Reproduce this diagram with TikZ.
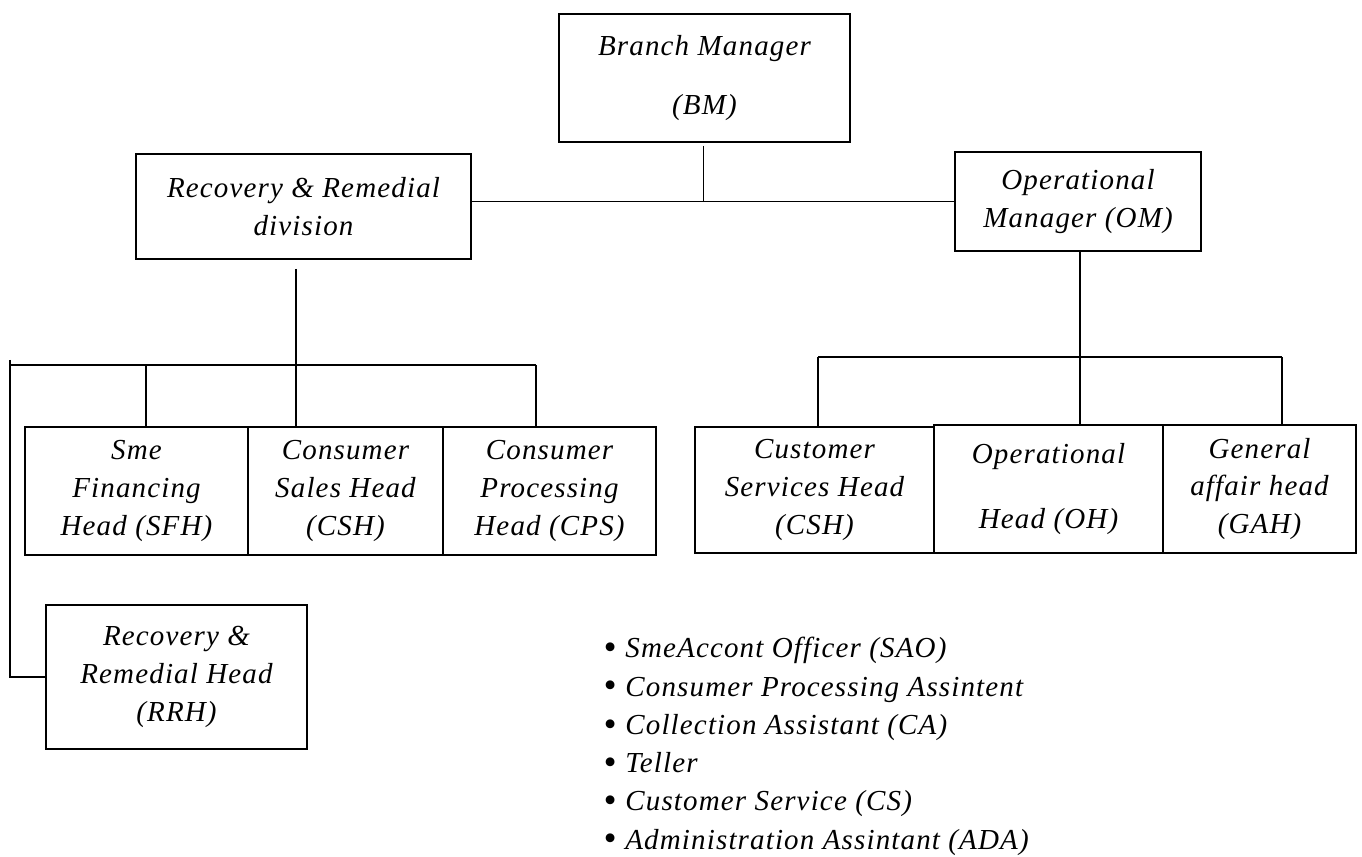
\documentclass[tikz,border=0pt]{standalone}
\usepackage{fontspec}
\setmainfont{Liberation Serif}
\newfontfamily\orgfont[LetterSpace=4]{Liberation Serif}
\usetikzlibrary{positioning}

\tikzset{
  orgbox/.style={draw, line width=1.1pt, inner sep=0pt, align=center,
    font=\fontsize{16.5}{21.5}\selectfont\orgfont\itshape},
  link/.style={line width=0.75pt},
  listitem/.style={anchor=base west, inner sep=0pt,
    font=\fontsize{16.5}{20}\selectfont\orgfont\itshape}
}

\begin{document}
\begin{tikzpicture}[x=0.02cm, y=-0.02cm]
  \useasboundingbox (0,0) rectangle (1362,857);

  % top level
  \node[orgbox, minimum width=5.82cm, minimum height=2.56cm] (bm) at (704.5,78)
    {Branch Manager\\[12.5pt](BM)};
  \node[orgbox, minimum width=6.7cm, minimum height=2.1cm] (rrd) at (303.5,206.5)
    {Recovery \& Remedial\\division};
  \node[orgbox, minimum width=4.92cm, minimum height=1.98cm] (om) at (1078,201.5)
    {Operational\\Manager (OM)};

  % recovery side
  \node[orgbox, minimum width=4.46cm, minimum height=2.56cm] (sfh) at (136.5,491)
    {Sme\\Financing\\Head (SFH)};
  \node[orgbox, minimum width=3.9cm, minimum height=2.56cm] (csh) at (345.5,491)
    {Consumer\\Sales Head\\(CSH)};
  \node[orgbox, minimum width=4.26cm, minimum height=2.56cm] (cps) at (549.5,491)
    {Consumer\\Processing\\Head (CPS)};
  \node[orgbox, minimum width=5.22cm, minimum height=2.88cm] (rrh) at (176.5,677)
    {Recovery \&\\Remedial Head\\(RRH)};

  % operational side
  \node[orgbox, minimum width=4.78cm, minimum height=2.52cm] (cush) at (814.5,490)
    {Customer\\Services Head\\(CSH)};
  \node[orgbox, minimum width=4.58cm, minimum height=2.56cm] (oh) at (1048.5,489)
    {Operational\\[15pt]Head (OH)};
  \node[orgbox, minimum width=3.86cm, minimum height=2.56cm] (gah) at (1259.5,489)
    {General\\affair head\\(GAH)};

  % junction points
  \coordinate (bmdrop) at (703.5,146);
  \coordinate (lhub) at (296,365);
  \coordinate (lleft) at (10,365);
  \coordinate (lright) at (536,365);
  \coordinate (lsfh) at (146,365);
  \coordinate (rhub) at (1080,357);
  \coordinate (rleft) at (818,357);
  \coordinate (rright) at (1282,357);

  % connectors
  \draw[link] (bmdrop) -- (bmdrop |- om.west);
  \draw[link] (rrd.east |- om.west) -- (om.west);

  \draw[link, shorten <=0.18cm] (lhub |- rrd.south) -- (lhub |- csh.north);
  \draw[link] (lleft) -- (lright);
  \draw[link] (lsfh) -- (lsfh |- sfh.north);
  \draw[link] (lright) -- (lright |- cps.north);
  \draw[link] ([yshift=0.1cm]lleft) -- (lleft |- rrh.west) -- (rrh.west);

  \draw[link] (rhub |- om.south) -- (rhub |- oh.north);
  \draw[link] (rleft) -- (rright);
  \draw[link] (rleft) -- (rleft |- cush.north);
  \draw[link] (rright) -- (rright |- gah.north);

  % staff list
  \foreach \txt [count=\i] in {SmeAccont Officer (SAO),
      Consumer Processing Assintent, Collection Assistant (CA), Teller,
      Customer Service (CS), Administration Assintant (ADA)}
    \node[listitem] (item\i) at (603,{658+38.2*(\i-1)})
      {\makebox[0.44cm][l]{\smash{\fontsize{21}{21}\selectfont\raisebox{-1pt}{\textbullet}}}\txt};
\end{tikzpicture}
\end{document}
